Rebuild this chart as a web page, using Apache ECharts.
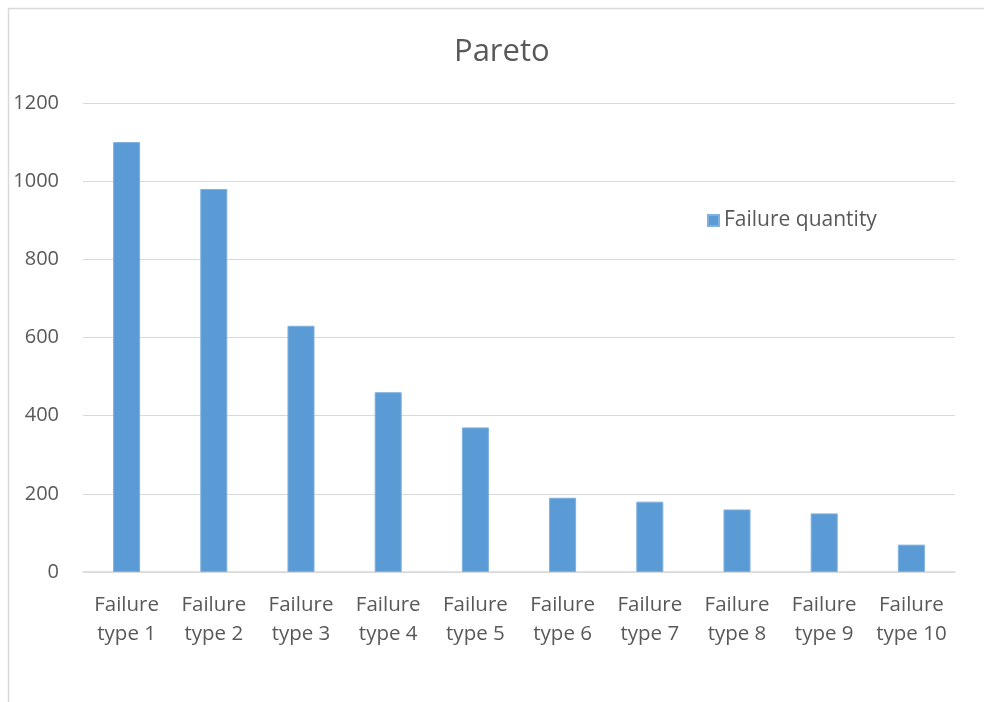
<!DOCTYPE html>
<html>
<head>
<meta charset="utf-8">
<script src="https://cdn.jsdelivr.net/npm/echarts@6/dist/echarts.min.js"></script>
<style>
  html, body { margin: 0; padding: 0; background: #fff; }
  #chart { width: 984px; height: 702px; }
</style>
</head>
<body>
<div id="chart"></div>
<script>
// Failure counts by type
const categories = ['Failure\ntype 1', 'Failure\ntype 2', 'Failure\ntype 3', 'Failure\ntype 4', 'Failure\ntype 5',
                    'Failure\ntype 6', 'Failure\ntype 7', 'Failure\ntype 8', 'Failure\ntype 9', 'Failure\ntype 10'];
const failureQuantity = [1100, 980, 630, 460, 370, 190, 180, 160, 150, 70];
const seriesName = 'Failure quantity';
const chartTitle = 'Pareto';

const FONT = '"Open Sans", "Noto Sans", sans-serif';
const TEXT = '#595959';

const chart = echarts.init(document.getElementById('chart'), null, { renderer: 'canvas' });
chart.setOption({
  backgroundColor: '#fff',
  animation: false,
  textStyle: { fontFamily: FONT },
  graphic: [
    { type: 'line', shape: { x1: 8, y1: 8.5, x2: 984, y2: 8.5 },
      style: { stroke: '#d9d9d9', lineWidth: 1.5 }, silent: true },
    { type: 'line', shape: { x1: 8.5, y1: 8, x2: 8.5, y2: 702 },
      style: { stroke: '#d9d9d9', lineWidth: 1.5 }, silent: true }
  ],
  title: {
    text: chartTitle,
    left: 449,
    top: 32,
    textStyle: { fontFamily: FONT, fontSize: 31, fontWeight: 'normal', color: TEXT }
  },
  legend: {
    data: [seriesName],
    left: 702,
    top: 205,
    icon: 'rect',
    itemWidth: 11,
    itemHeight: 11,
    itemGap: 6,
    textStyle: { fontFamily: FONT, fontSize: 21, color: TEXT }
  },
  grid: { left: 83, right: 29, top: 103, bottom: 130, containLabel: false },
  xAxis: {
    type: 'category',
    data: categories,
    axisLine: { lineStyle: { color: '#d9d9d9', width: 1.5 } },
    axisTick: { show: false },
    axisLabel: {
      fontFamily: FONT, fontSize: 20.5, color: TEXT, lineHeight: 29,
      margin: 19, interval: 0
    }
  },
  yAxis: {
    type: 'value',
    min: 0,
    max: 1200,
    interval: 200,
    axisLine: { show: false },
    axisTick: { show: false },
    splitLine: { lineStyle: { color: '#d9d9d9', width: 1 } },
    axisLabel: { fontFamily: FONT, fontSize: 20, color: TEXT, margin: 24,
                 formatter: v => String(v) }
  },
  series: [{
    name: seriesName,
    type: 'bar',
    data: failureQuantity,
    barWidth: '31%',
    itemStyle: { color: '#5B9BD5', borderColor: '#7fb0de', borderWidth: 1 }
  }]
});
</script>
</body>
</html>
